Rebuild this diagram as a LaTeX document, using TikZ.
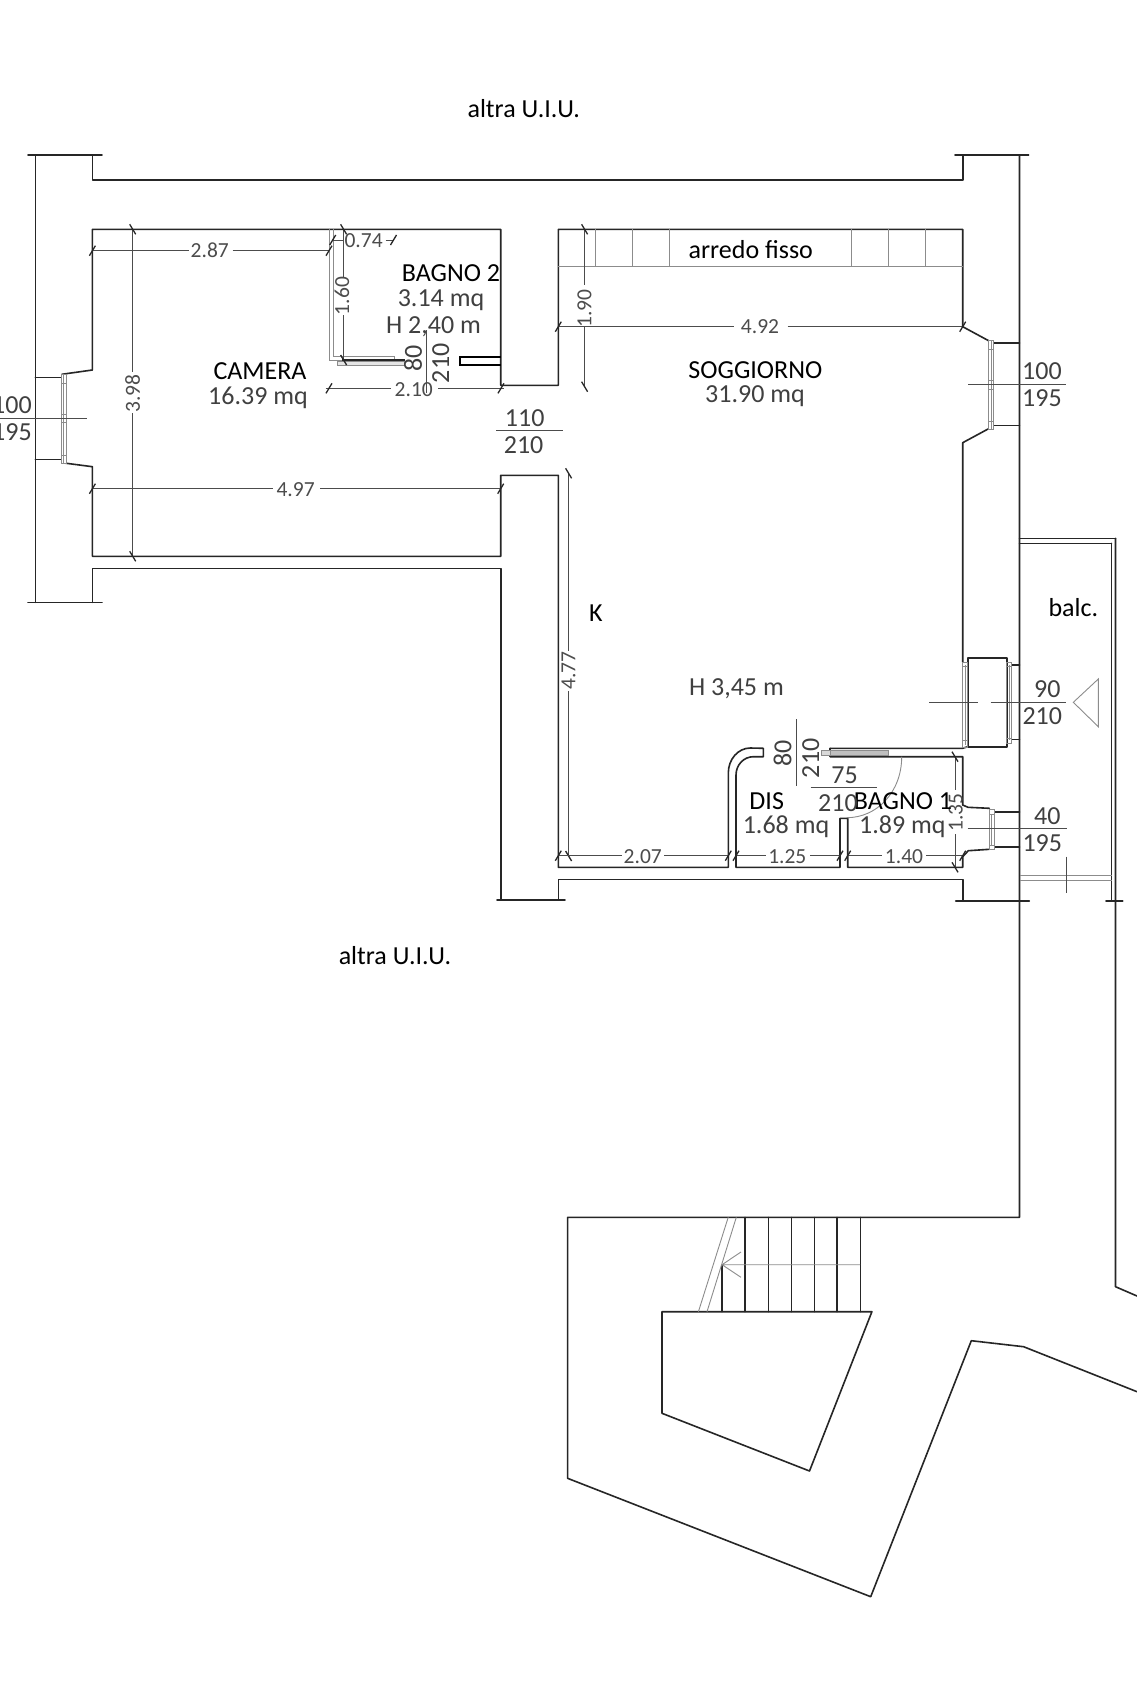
\documentclass[tikz,border=0pt]{standalone}
\usepackage{fontspec}
\setmainfont{Carlito}
\tikzset{
 wall/.style={line width=1.6pt,draw=black!85,line cap=round,line join=round},
 thin grey/.style={line width=0.9pt,draw=black!45},
 dimline/.style={line width=0.8pt,draw=black!70},
 tickm/.style={line width=1.3pt,draw=black!85},
 lab/.style={font=\fontsize{26}{26}\selectfont,text=black,inner sep=0pt},
 val/.style={font=\fontsize{26}{26}\selectfont,text=black!75,inner sep=0pt},
 dimt/.style={font=\fontsize{21.5}{22}\selectfont,text=black!70,inner sep=0pt},
}
\newcommand{\tickH}[2]{\draw[tickm] (#1-3,#2+5)--(#1+3,#2-5);}
\newcommand{\tickV}[2]{\draw[tickm] (#1-3,#2-5)--(#1+3,#2+5);}
\begin{document}
\begin{tikzpicture}[x=1pt,y=-1pt]
\clip (0,0) rectangle (1137,1689);
\fill[white] (0,0) rectangle (1137,1689);
% outer shell
\draw[wall] (28,155)--(102,155);
\draw[wall] (35.3,155)--(35.3,602.3);
\draw[wall] (28,602.3)--(102,602.3);
\draw[wall] (92.4,155)--(92.4,180)--(962.7,180)--(962.7,155);
\draw[wall] (955,155)--(1028.6,155);
\draw[wall] (1019.5,155)--(1019.5,1217.3)--(567.6,1217.3)--(567.6,1478.3)--(870.7,1596.7)--(971.3,1340.7)--(1023.6,1346.7)--(1137,1391.7);
\draw[wall] (1115.5,538.3)--(1115.5,1286.7)--(1137,1296);
% camera and bagno 2
\draw[wall] (61,377.3)--(35.3,377.3) (61,459.3)--(35.3,459.3);
\draw[wall] (61.8,374.3)--(92.4,370)--(92.4,229.3)--(500.7,229.3)--(500.7,385.3)--(558.3,385.3)--(558.3,229.3)--(962.7,229.3)--(962.7,326.7)--(988.6,340.7);
\draw[wall] (61.8,462.7)--(92.4,466.7)--(92.4,556.3)--(500.7,556.3)--(500.7,475.3)--(558.3,475.3)--(558.3,867.3)--(728.3,867.3)--(728.3,773) arc[start angle=180,end angle=270,x radius=22,y radius=25]--(763.3,748.3)--(763.3,756.7)--(753.3,756.7) arc[start angle=270,end angle=180,x radius=17.3,y radius=18.3]--(736,867.3)--(840,867.3)--(840,818.3)--(847.7,818.3)--(847.7,867.3)--(962.7,867.3)--(962.7,856.7)--(968.3,850.7)--(989.3,849.3);
\draw[wall] (92.4,602.3)--(92.4,568.3)--(500.7,568.3)--(500.7,900);
\draw[wall] (497,900)--(565,900);
\draw[wall] (558.3,900)--(558.3,879.3)--(962.7,879.3)--(962.7,900.7);
\draw[wall] (955.7,900.7)--(1029.3,900.7);
\draw[wall] (1111.5,543.3)--(1111.5,900.7);
\draw[wall] (1106,900.7)--(1122.7,900.7);
\draw[wall] (1019.5,538.3)--(1115.5,538.3) (1019.5,543.3)--(1111.5,543.3);
\draw[thin grey] (1020,875.7)--(1112,875.7) (1020,880.7)--(1112,880.7);
\draw[dimline] (1066.7,856.7)--(1066.7,893.3);
% soggiorno right wall
\draw[wall] (994,343)--(1019.5,343) (994,425.3)--(1019.5,425.3);
\draw[wall] (988.6,428.7)--(962.7,442.7)--(962.7,662);
\draw[wall] (1019.5,665)--(1011.7,665) (1011.7,739.3)--(1019.5,739.3);
\draw[wall] (967.7,658) rectangle (1006.7,746.7);
\draw[wall] (830,748.3)--(962.7,748.3)--(967.7,746.7);
\draw[wall] (830,748.3)--(830,756.7)--(962.7,756.7)--(962.7,805)--(968,807.3)--(989.3,808.3);
\draw[wall] (994,811.7)--(1019.5,811.7) (994,846.7)--(1019.5,846.7);
% windows
\draw[thin grey,fill=white] (61,374.3) rectangle (66.5,463.3);
\draw[thin grey] (63.7,374.3)--(63.7,463.3) (61,383)--(66.5,383) (61,455)--(66.5,455) (61,414)--(66.5,414) (61,422.5)--(66.5,422.5);
\draw[thin grey,fill=white] (988.6,340) rectangle (993.9,429.3);
\draw[thin grey] (991.2,340)--(991.2,429.3) (988.6,349)--(993.9,349) (988.6,421)--(993.9,421) (988.6,380)--(993.9,380) (988.6,389)--(993.9,389);
\draw[thin grey,fill=white] (989.3,809) rectangle (994,849);
\draw[thin grey] (991.6,814)--(991.6,845) (989.3,814)--(994,814) (989.3,845)--(994,845);
\draw[thin grey] (962.7,662) rectangle (967.7,747.5);
\draw[thin grey] (965.2,665)--(965.2,745) (962.7,666)--(967.7,666) (962.7,740)--(967.7,740);
\draw[thin grey] (1006.7,662) rectangle (1011.7,743);
\draw[thin grey] (1009.2,665)--(1009.2,740) (1006.7,666)--(1011.7,666) (1006.7,738)--(1011.7,738);
% doors
\draw[thin grey,fill=black!25] (830,750.7) rectangle (888.3,755);
\draw[thin grey,fill=black!15] (821.7,750.7) rectangle (830,755);
\draw[thin grey] (901.7,756.7) .. controls (901.7,792) and (877,817.7) .. (846.7,817.7);
\draw[thin grey] (329,229.3)--(329,360)--(404.4,360) (333.8,229.3)--(333.8,356.7)--(394.5,356.7)--(394.5,360);
\draw[line width=1.3pt,draw=black!85] (342,360)--(405,360);
\draw[thin grey,fill=black!10] (337.5,361.7) rectangle (404.4,365);
\draw[line width=1.6pt,draw=black] (500.7,356.7)--(460,356.7)--(460,365)--(500.7,365);
% arredo
\draw[thin grey] (558.3,266)--(962.7,266);
\foreach \x in {595.2,632.5,669.5,851.5,888.4,925.4} \draw[thin grey] (\x,229.3)--(\x,266);
% door arrow
\draw[thin grey] (1073.3,702.3)--(1098.3,679)--(1098.3,726.7)--cycle;
% fraction lines
\draw[dimline] (0,418.3)--(87,418.3);
\draw[dimline] (968.4,384.3)--(1066.3,384.3);
\draw[dimline] (496.4,430)--(563,430);
\draw[dimline] (929.3,702.3)--(978.3,702.3) (990.7,702.3)--(1066,702.3);
\draw[dimline] (967.7,828.3)--(1066.7,828.3);
\draw[dimline] (796.7,719.3)--(796.7,785.7);
\draw[dimline] (810.7,787.3)--(876.7,787.3);
\draw[dimline] (426,330)--(426,393.3);
% dimensions
\draw[dimline] (92.4,250.7)--(189,250.7) (232.7,250.7)--(329,250.7); \tickH{92.4}{250.7}\tickH{329}{250.7}
\node[dimt] (d287) at (209.8,250) {2.87};
\draw[dimline] (332.7,240)--(343.6,240) (385.5,240)--(393.5,240); \tickH{332.7}{240}\tickH{393.5}{240}
\node[dimt] (d074) at (363.6,240.5) {0.74};
\draw[dimline] (343.6,229.3)--(343.6,276.7) (343.6,315)--(343.6,360); \tickV{343.6}{229.3}\tickV{343.6}{360}
\node[dimt,rotate=90] (d160) at (342,296) {1.60};
\draw[dimline] (325.5,388.3)--(391,388.3) (438,388.3)--(503.6,388.3); \tickH{329}{388.3}\tickH{501}{388.3}
\node[dimt] (d210) at (413.8,389.3) {2.10};
\draw[dimline] (132.7,229.3)--(132.7,371.7) (132.7,413.3)--(132.7,556.3); \tickV{132.7}{229.3}\tickV{132.7}{556.3}
\node[dimt,rotate=90] (d398) at (132.7,393.3) {3.98};
\draw[dimline] (92.4,488.7)--(272.7,488.7) (320,488.7)--(500.7,488.7); \tickH{92.4}{488.7}\tickH{500.7}{488.7}
\node[dimt] (d497) at (295.6,489.3) {4.97};
\draw[dimline] (584.6,229.3)--(584.6,285) (584.6,326.7)--(584.6,386.7); \tickV{584.6}{229.3}\tickV{584.6}{386.7}
\node[dimt,rotate=90] (d190) at (584.6,308.3) {1.90};
\draw[dimline] (558.3,326.7)--(734,326.7) (787.5,326.7)--(962.7,326.7); \tickH{558.3}{326.7}\tickH{962.7}{326.7}
\node[dimt] (d492) at (760,327) {4.92};
\draw[dimline] (568.6,473.3)--(568.6,651) (568.6,691)--(568.6,856); \tickV{568.6}{473.3}\tickV{568.6}{856}
\node[dimt,rotate=90] (d477) at (568.5,670.8) {4.77};
\draw[dimline] (558.3,855.7)--(622,855.7) (664,855.7)--(728.3,855.7); \tickH{558.3}{855.7}\tickH{728.3}{855.7}
\node[dimt] (d207) at (642.8,856.3) {2.07};
\draw[dimline] (736,855.7)--(766,855.7) (810,855.7)--(840,855.7); \tickH{736}{855.7}\tickH{840}{855.7}
\node[dimt] (d125) at (787.3,856.7) {1.25};
\draw[dimline] (847.7,855.7)--(882,855.7) (926,855.7)--(962.7,855.7); \tickH{847.7}{855.7}\tickH{962.7}{855.7}
\node[dimt] (d140) at (904,856.7) {1.40};
\draw[dimline] (955,756.7)--(955,790) (955,834)--(955,867.3); \tickV{955}{756.7}\tickV{955}{867.3}
\node[dimt,rotate=90] (d135) at (955.7,812.7) {1.35};
% stairs
\draw[wall] (662,1311.7)--(871.9,1311.7)--(809.5,1471)--(662,1413.3)--cycle;
\foreach \x in {744.9,768.1,791.3,814.2,837,860.2} \draw[wall,line width=1.2pt] (\x,1217.3)--(\x,1311.7);
\draw[wall,line width=1.2pt] (722,1265)--(722,1311.7);
\draw[thin grey] (728.2,1217.3)--(698.4,1311.7) (736.3,1217.3)--(707,1311.7);
\draw[thin grey] (860.2,1264.7)--(722,1264.7) (741,1252)--(722,1264.7)--(741,1277.3);
% labels
\node[lab] (u1) at (523.8,108.7) {altra U.I.U.};
\node[lab] (u2) at (395,956) {altra U.I.U.};
\node[lab] (camera) at (260,370.7) {CAMERA};
\node[val] (acam) at (258,397.7) {16.39 mq};
\node[lab] (bagno2) at (451,273.3) {BAGNO 2};
\node[val] (ab2) at (441,300.3) {3.14 mq};
\node[val] (hb2) at (433.5,326.7) {H 2,40 m};
\node[lab] (arredo) at (750.8,250) {arredo fisso};
\node[lab] (sogg) at (755.4,370) {SOGGIORNO};
\node[val] (asog) at (755,396) {31.90 mq};
\node[lab] (k) at (595.8,613.3) {K};
\node[lab] (balc) at (1073.4,607.3) {balc.};
\node[val] (h345) at (736.4,689) {H 3,45 m};
\node[lab] (dis) at (766.7,800.7) {DIS};
\node[val] (adis) at (786,827) {1.68 mq};
\node[lab] (bagno1) at (903,800.7) {BAGNO 1};
\node[val] (ab1) at (902.3,826.3) {1.89 mq};
\node[val] (w1a) at (12,405) {100};
\node[val] (w1b) at (12,432.3) {195};
\node[val] (w2a) at (1042,371) {100};
\node[val] (w2b) at (1042,398.5) {195};
\node[val] (da) at (524.7,418.3) {110};
\node[val] (db) at (523.6,445) {210};
\node[val] (w3a) at (1047.3,689) {90};
\node[val] (w3b) at (1042.3,716) {210};
\node[val] (w4a) at (1047.3,815.7) {40};
\node[val] (w4b) at (1042.3,843.3) {195};
\node[val] (e1) at (844.5,775) {75};
\node[val] (e2) at (838,802.7) {210};
\node[val,rotate=90] (e3) at (782.7,753.3) {80};
\node[val,rotate=90] (e4) at (810.7,758.3) {210};
\node[val,rotate=90] (e5) at (413,358.3) {80};
\node[val,rotate=90] (e6) at (440.8,363.3) {210};
\end{tikzpicture}
\end{document}
